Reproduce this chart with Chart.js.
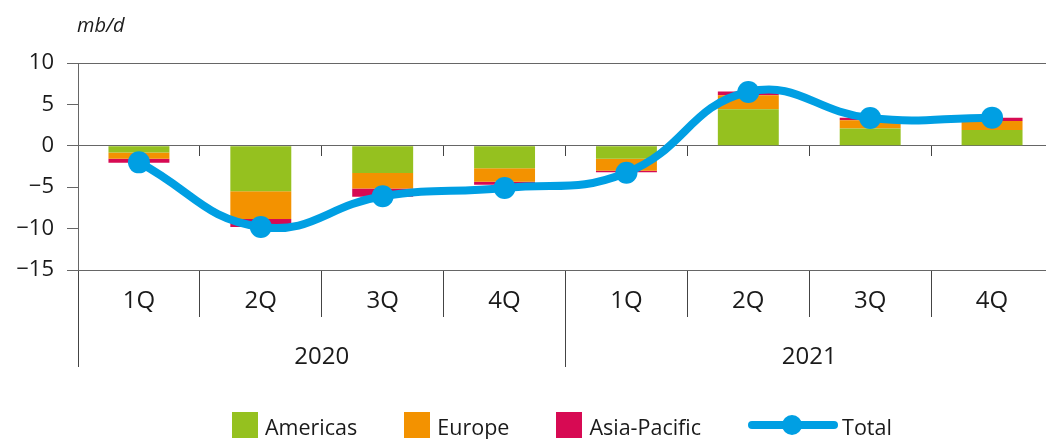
<!DOCTYPE html>
<html>
<head>
<meta charset="utf-8">
<script src="https://cdn.jsdelivr.net/npm/chart.js@4/dist/chart.umd.min.js"></script>
<style>
    html, body { margin: 0; padding: 0; background: #fff; }
    #wrap { position: relative; width: 1046px; height: 439px; overflow: hidden; font-family: "Open Sans", sans-serif; color: #1a1a1a; }
    #chart { position: absolute; left: 0; top: 0; }
    #unit { position: absolute; left: 77px; top: 11px; font-size: 20px; font-style: italic; }
    #legend { position: absolute; left: 232px; top: 411px; display: flex; align-items: center; gap: 47px; font-size: 21.5px; line-height: 28px; }
    .item { display: flex; align-items: center; }
    .item span { position: relative; top: 2px; }
    .box { width: 26px; height: 26px; margin-right: 7px; }
    .lineSwatch { position: relative; width: 90px; height: 26px; margin-right: 4px; }
    .lineSwatch .bar { position: absolute; left: 0; right: 0; top: 9px; height: 8px; border-radius: 4px; }
    .lineSwatch .dot { position: absolute; left: 34px; top: 3px; width: 20px; height: 20px; border-radius: 50%; }
</style>
</head>
<body>
<div id="wrap">
    <canvas id="chart" width="1053" height="439"></canvas>
    <div id="unit">mb/d</div>
    <div id="legend"></div>
</div>
<script>
const quarters = ['1Q', '2Q', '3Q', '4Q', '1Q', '2Q', '3Q', '4Q']
const years = ['2020', '2021']
const americas = [-0.8, -5.5, -3.3, -2.7, -1.55, 4.4, 2.1, 1.9]
const europe = [-0.75, -3.35, -1.85, -1.65, -1.45, 1.7, 1.0, 1.1]
const asiaPacific = [-0.5, -0.95, -1.0, -0.35, -0.2, 0.45, 0.3, 0.4]
const total = [-2.0, -9.8, -6.1, -5.1, -3.25, 6.5, 3.35, 3.4]
const yTicks = [-15, -10, -5, 0, 5, 10]

const Y_FONT = { family: '"Open Sans", sans-serif', size: 22 }
const X_FONT = { family: '"Open Sans", sans-serif', size: 24 }
const AXIS = '#666'
const SEP = '#444'

const fmt = v => v < 0 ? '\u2212' + Math.abs(v) : String(v)
const noSidePad = s => { s.paddingLeft = 0; s.paddingRight = 0 }

const ctx = document.querySelector('#chart').getContext('2d')
const chart = new Chart(ctx, {
    type: 'bar',
    data: {
        labels: quarters,
        datasets: [
            { label: 'Americas', data: americas, backgroundColor: '#95C11F', stack: 'regions', order: 1 },
            { label: 'Europe', data: europe, backgroundColor: '#F39200', stack: 'regions', order: 1 },
            { label: 'Asia-Pacific', data: asiaPacific, backgroundColor: '#D70A53', stack: 'regions', order: 1 },
            {
                type: 'line', label: 'Total', data: total, stack: 'total', order: 0,
                borderColor: '#009FE3', backgroundColor: '#009FE3', borderWidth: 8,
                pointRadius: 11, pointBorderWidth: 0, pointBackgroundColor: '#009FE3',
                tension: 0.45, fill: false
            }
        ]
    },
    options: {
        responsive: false,
        animation: false,
        layout: { autoPadding: false, padding: { top: 63, bottom: 72, left: 0, right: 0 } },
        datasets: { bar: { categoryPercentage: 1, barPercentage: 0.5, borderWidth: 0 } },
        plugins: { legend: { display: false }, tooltip: { enabled: false } },
        scales: {
            y: {
                stacked: true,
                min: -15, max: 10,
                afterBuildTicks: s => { s.ticks = yTicks.map(v => ({ value: v })) },
                afterFit: s => { s.width = 78 },
                border: { display: true, color: AXIS, width: 1 },
                grid: {
                    color: c => c.tick && c.tick.value === 10 ? AXIS : 'transparent',
                    tickColor: AXIS, tickLength: 11, lineWidth: 1
                },
                ticks: { font: Y_FONT, color: '#1a1a1a', padding: 13, callback: v => fmt(v) }
            },
            x: {
                stacked: true,
                weight: 0,
                offset: true,
                afterFit: s => { s.height = 47; noSidePad(s) },
                border: { display: true, color: AXIS, width: 1 },
                grid: { offset: true, drawOnChartArea: false, tickLength: 47, tickColor: SEP, color: SEP },
                ticks: { font: X_FONT, color: '#1a1a1a', padding: -30, maxRotation: 0, autoSkip: false }
            },
            xYears: {
                axis: 'x',
                type: 'category',
                position: 'bottom',
                weight: 1,
                labels: years,
                offset: true,
                afterFit: s => { s.height = 50; noSidePad(s) },
                border: { display: false },
                grid: { offset: true, drawOnChartArea: false, tickLength: 50, tickColor: SEP, color: SEP },
                ticks: { font: X_FONT, color: '#1a1a1a', padding: -24, maxRotation: 0 }
            },
            xZero: {
                axis: 'x',
                type: 'category',
                position: { y: 0 },
                labels: quarters,
                offset: true,
                afterFit: noSidePad,
                border: { display: true, color: AXIS, width: 1 },
                grid: { offset: true, drawOnChartArea: false, tickLength: 10, tickColor: SEP },
                ticks: { display: false }
            }
        }
    }
})

// html legend from the datasets
const legend = document.querySelector('#legend')
chart.data.datasets.forEach(ds => {
    const item = document.createElement('div')
    item.className = 'item'
    if (ds.type === 'line') {
        item.innerHTML = `<div class="lineSwatch"><div class="bar" style="background:${ds.borderColor}"></div><div class="dot" style="background:${ds.borderColor}"></div></div><span>${ds.label}</span>`
    } else {
        item.innerHTML = `<div class="box" style="background:${ds.backgroundColor}"></div><span>${ds.label}</span>`
    }
    legend.appendChild(item)
})
</script>
</body>
</html>
